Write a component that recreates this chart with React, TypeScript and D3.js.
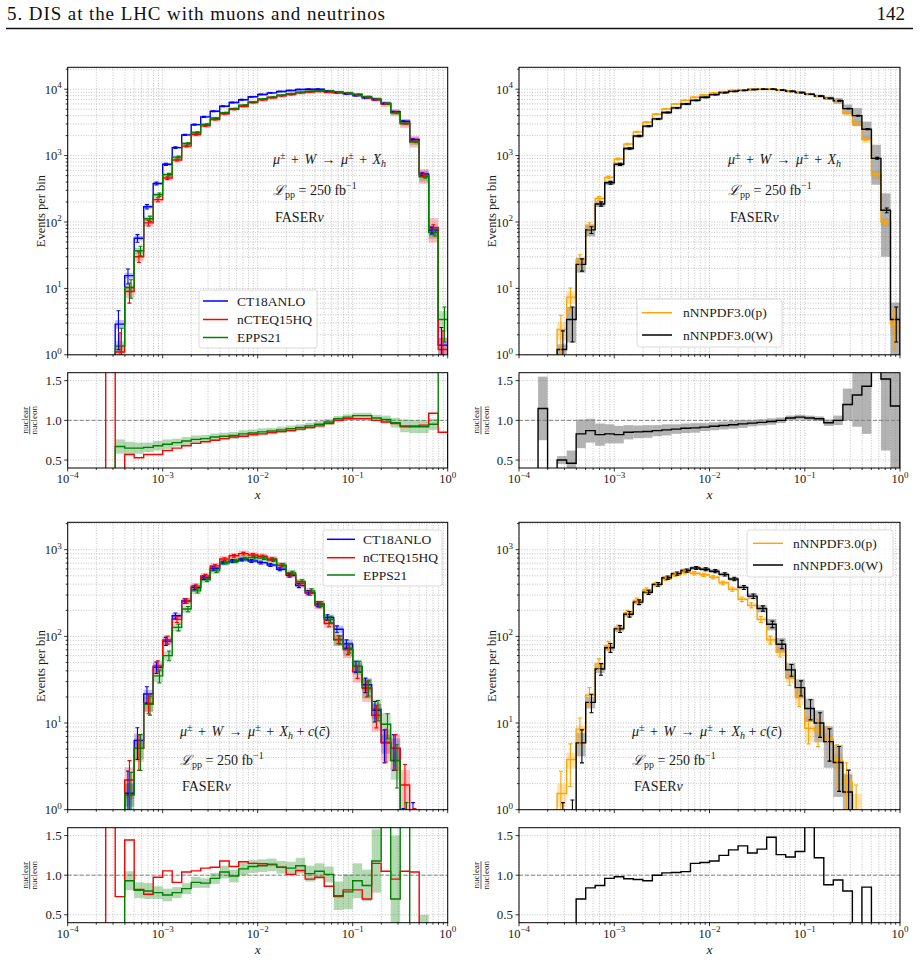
import React from "react";
import * as d3 from "d3";

const FONT = "'Liberation Serif', 'DejaVu Serif', serif";
const NBINS = 40;
// 10 log bins per decade, 1e-4 .. 1
const edges = d3.range(NBINS + 1).map((i) => Math.pow(10, -4 + i / 10));

// put values into the 40 bins starting at bin `start`
function fromBin(start: number, vals: number[]): (number | null)[] {
  const out: (number | null)[] = new Array(NBINS).fill(null);
  vals.forEach((v, i) => {
    out[start + i] = v;
  });
  return out;
}

// ---------- top left: mu + W -> mu + X_h (events per bin) ----------
const tlCT18 = fromBin(5, [2.9, 15.6, 57, 170, 380, 740, 1320, 2050, 2930, 3830, 4660, 5540, 6300, 6940, 7680, 8330, 8800, 9230, 9560, 9900, 10000, 10000, 9300, 8900, 8500, 8000, 7400, 7000, 6100, 4600, 3300, 1750, 530, 75, 1.4]);
const tlNCTEQ = fromBin(5, [1.1, 9, 30, 97, 217, 460, 860, 1390, 2080, 2800, 3500, 4270, 4980, 5550, 6300, 6910, 7440, 7940, 8320, 8810, 9100, 9300, 9000, 8900, 8650, 8150, 7500, 7000, 6000, 4450, 3050, 1650, 500, 82, 1.2]);
const tlEPPS = fromBin(5, [1.35, 10.3, 37, 112, 258, 518, 950, 1520, 2230, 2950, 3680, 4430, 5100, 5760, 6450, 7120, 7610, 8120, 8560, 9000, 9300, 9500, 9400, 9100, 8800, 8400, 7700, 7100, 6100, 4400, 3050, 1600, 480, 70, 3.4]);
// relative pdf uncertainty
const tlCT18Band = fromBin(5, [
  0.15, 0.1, 0.08, 0.06, 0.05, 0.05, 0.04, 0.04, 0.04, 0.04,
  0.04, 0.04, 0.04, 0.04, 0.04, 0.04, 0.04, 0.04, 0.04, 0.04, 0.04, 0.04, 0.04, 0.04, 0.04,
  0.04, 0.04, 0.04, 0.05, 0.06, 0.07, 0.08, 0.12, 0.18, 0.3]);
const tlNCTEQBand = fromBin(5, [
  0.3, 0.2, 0.15, 0.12, 0.1, 0.09, 0.08, 0.07, 0.07, 0.06,
  0.06, 0.06, 0.06, 0.06, 0.06, 0.06, 0.06, 0.06, 0.06, 0.06, 0.06, 0.06, 0.06, 0.06, 0.06,
  0.06, 0.07, 0.08, 0.1, 0.12, 0.15, 0.2, 0.25, 0.4, 0.5]);
const tlEPPSBand = fromBin(5, [
  0.2, 0.12, 0.1, 0.08, 0.07, 0.06, 0.05, 0.05, 0.05, 0.05,
  0.045, 0.045, 0.045, 0.045, 0.045, 0.045, 0.045, 0.045, 0.045, 0.045, 0.045, 0.045, 0.045, 0.045, 0.045,
  0.045, 0.05, 0.05, 0.06, 0.07, 0.08, 0.1, 0.15, 0.2, 0.35]);
// ratio nuclear / nucleon (0 = below the frame, 5 = above)
const tlRatioNCTEQ = fromBin(3, [0, 5, 0.3, 0.57, 0.53, 0.57, 0.57, 0.62, 0.65, 0.68, 0.71, 0.73, 0.75, 0.77, 0.79, 0.8, 0.82, 0.83, 0.845, 0.86, 0.87, 0.89, 0.91, 0.93, 0.96, 1.0, 1.02, 1.02, 1.02, 1.0, 0.98, 0.96, 0.92, 0.93, 0.94, 1.09, 0.85]);
const tlRatioEPPS = fromBin(5, [0.67, 0.65, 0.65, 0.66, 0.68, 0.7, 0.72, 0.74, 0.76, 0.77, 0.79, 0.8, 0.81, 0.83, 0.84, 0.855, 0.865, 0.88, 0.895, 0.91, 0.93, 0.95, 0.98, 1.02, 1.04, 1.06, 1.06, 1.03, 1.01, 0.97, 0.93, 0.92, 0.92, 0.95, 5]);
const tlRatioEPPSBand = fromBin(5, [0.09, 0.08, 0.07, 0.06, 0.06, 0.06, 0.05, 0.05, 0.05, 0.045, 0.045, 0.045, 0.045, 0.045, 0.045, 0.045, 0.04, 0.04, 0.04, 0.04, 0.04, 0.04, 0.035, 0.035, 0.035, 0.035, 0.035, 0.04, 0.05, 0.06, 0.08, 0.08, 0.08, 0.07, 0.1]);

// ---------- top right: nNNPDF3.0 ----------
const trW = fromBin(4, [1.2, 3.4, 23, 76, 187, 390, 740, 1280, 1970, 2780, 3570, 4450, 5230, 6000, 6800, 7550, 8300, 8900, 9300, 9600, 9900, 10000, 10000, 9700, 9300, 8900, 8400, 7900, 7300, 6700, 5100, 4000, 2500, 910, 150, 3.4]);
const trP = fromBin(4, [2.4, 7.4, 27, 88, 226, 470, 890, 1490, 2280, 3180, 4200, 5030, 6000, 6800, 7550, 8200, 8800, 9200, 9600, 9800, 10000, 10100, 10100, 9700, 9300, 8900, 8400, 7900, 7300, 6700, 4300, 3050, 1750, 520, 100, 2.9]);
const trWBand = fromBin(4, [
  0.2, 0.55, 0.25, 0.2, 0.1, 0.08,
  0.07, 0.06, 0.05, 0.05, 0.05, 0.05,
  0.05, 0.05, 0.05, 0.05, 0.05, 0.05,
  0.04, 0.04, 0.04, 0.04, 0.04, 0.04,
  0.04, 0.04, 0.04, 0.05, 0.06, 0.1,
  0.15, 0.3, 0.3, 0.6, 0.8, 0.8]);
const trPBand = fromBin(4, [
  0.3, 0.2, 0.1, 0.06, 0.05, 0.04,
  0.04, 0.04, 0.04, 0.04, 0.04, 0.04,
  0.03, 0.03, 0.03, 0.03, 0.03, 0.03,
  0.03, 0.03, 0.03, 0.03, 0.03, 0.03,
  0.03, 0.03, 0.03, 0.04, 0.05, 0.06,
  0.08, 0.1, 0.12, 0.15, 0.15, 0.3]);
const trRatio = fromBin(2, [1.15, 0, 0.5, 0.46, 0.83, 0.87, 0.82, 0.83, 0.82, 0.85, 0.855, 0.86, 0.87, 0.88, 0.89, 0.9, 0.905, 0.915, 0.925, 0.935, 0.945, 0.955, 0.965, 0.975, 0.985, 1.0, 1.03, 1.04, 1.03, 1.02, 0.97, 1.0, 1.2, 1.32, 1.43, 5, 1.52, 1.18]);
const trRatioBand = fromBin(2, [
  0.4, 0, 0.05, 0.16,
  0.18, 0.15, 0.14, 0.12, 0.11,
  0.09, 0.08, 0.08, 0.07, 0.07,
  0.06, 0.06, 0.06, 0.05, 0.05,
  0.05, 0.05, 0.05, 0.04, 0.04,
  0.04, 0.035, 0.03, 0.03, 0.03,
  0.03, 0.04, 0.06, 0.2, 0.4,
  0.6, 0.9, 0.9, 0.9]);

// ---------- bottom left: + c(cbar) ----------
const blCT18 = fromBin(6, [1.55, 6.3, 21.6, 44, 88, 173, 256, 365, 475, 610, 710, 740, 770, 740, 710, 665, 595, 505, 385, 320, 235, 165, 121, 82, 45, 27.7, 14, 5.9, 5.1, 0.4, 0.5]);
const blNCTEQ = fromBin(6, [2.2, 5.1, 16.9, 45.6, 91, 157, 256, 380, 497, 650, 780, 850, 900, 870, 840, 780, 660, 520, 410, 316, 230, 141, 92, 70, 39, 25, 12.3, 6, 5.1, 1.93, 0.4]);
const blEPPS = fromBin(6, [1.48, 5.1, 16.4, 35, 60, 127, 207, 335, 450, 570, 710, 740, 790, 810, 800, 760, 660, 540, 430, 335, 237, 157, 91, 73, 45, 25.6, 14.4, 9.7, 3.7, 0.5, 0.3]);
const blCT18Band = fromBin(6, [
  0.3, 0.2, 0.12, 0.1, 0.08, 0.07, 0.06, 0.06, 0.05, 0.05,
  0.05, 0.05, 0.05, 0.05, 0.05, 0.05, 0.05, 0.05, 0.05, 0.05,
  0.06, 0.08, 0.1, 0.12, 0.15, 0.18, 0.2, 0.25, 0.3, 0.4, 0.5]);
const blNCTEQBand = fromBin(6, [
  0.4, 0.3, 0.2, 0.15, 0.12, 0.1, 0.09, 0.08, 0.08, 0.08,
  0.08, 0.08, 0.08, 0.08, 0.08, 0.08, 0.08, 0.08, 0.08, 0.08,
  0.1, 0.12, 0.15, 0.2, 0.25, 0.3, 0.35, 0.4, 0.45, 0.5, 0.5]);
const blEPPSBand = fromBin(6, [
  0.35, 0.25, 0.18, 0.15, 0.12, 0.1, 0.1, 0.08, 0.08, 0.08,
  0.08, 0.08, 0.08, 0.08, 0.08, 0.08, 0.08, 0.08, 0.08, 0.08,
  0.1, 0.12, 0.15, 0.18, 0.2, 0.25, 0.3, 0.35, 0.4, 0.5, 0.5]);
const blRatioNCTEQ = fromBin(3, [0, 5, 0.73, 1.445, 0.82, 0.76, 0.975, 1.055, 0.91, 1.04, 1.055, 1.09, 1.1, 1.18, 1.11, 1.17, 1.15, 1.145, 1.14, 1.1, 1.01, 1.06, 0.95, 0.975, 0.86, 0.73, 0.815, 0.815, 0.7, 1.15, 1.05, 0.95, 1.05, 1.04, 0]);
const blRatioEPPS = fromBin(5, [0, 0.93, 0.81, 0.8, 0.78, 0.75, 0.78, 0.83, 0.91, 0.9, 0.96, 1.04, 0.99, 1.08, 1.11, 1.12, 1.13, 1.1, 1.09, 1.12, 1.02, 1.05, 1.01, 0.74, 0.79, 0.93, 0.87, 1.18, 5, 0.7, 5, 0, 0]);
const blRatioEPPSBand = fromBin(5, [0, 0.12, 0.1, 0.1, 0.08, 0.08, 0.07, 0.07, 0.07, 0.06, 0.07, 0.08, 0.08, 0.08, 0.08, 0.08, 0.08, 0.08, 0.08, 0.1, 0.1, 0.1, 0.1, 0.18, 0.22, 0.22, 0.2, 0.4, 0.8, 0.8, 0.8, 0, 0.5]);

// ---------- bottom right: nNNPDF3.0, + c(cbar) ----------
const brW = fromBin(4, [0.5, 0.55, 5.9, 17.3, 42, 74, 122, 180, 248, 323, 398, 475, 530, 575, 615, 595, 565, 519, 459, 367, 291, 210, 138, 81, 41, 25.6, 14.7, 10, 6.1, 3.5, 1.6]);
const brP = fromBin(4, [1.54, 3.8, 8.5, 21, 48, 78, 124, 186, 260, 345, 400, 463, 515, 548, 535, 513, 480, 415, 350, 268, 228, 157, 91, 66, 33, 20, 8.7, 8.2, 6.6, 3.7, 2.05, 0.95]);
const brWBand = fromBin(4, [
  0.8, 0.8, 0.3, 0.15, 0.1, 0.08, 0.07, 0.06, 0.06, 0.05,
  0.05, 0.05, 0.05, 0.05, 0.05, 0.05, 0.05, 0.05, 0.05, 0.05,
  0.08, 0.1, 0.15, 0.18, 0.2, 0.25, 0.3, 0.4, 0.5, 0.6, 0.6]);
const brPBand = fromBin(4, [
  0.3, 0.2, 0.1, 0.06, 0.05, 0.04,
  0.04, 0.04, 0.04, 0.04, 0.04, 0.04, 0.04, 0.04, 0.04, 0.04, 0.04, 0.04, 0.04, 0.04,
  0.05, 0.06, 0.08, 0.1, 0.12, 0.2, 0.3, 0.15, 0.15, 0.2, 0.3, 0.6]);
const brRatio = fromBin(6, [0.7, 0.84, 0.87, 0.96, 0.98, 0.955, 0.945, 0.93, 1.0, 1.03, 1.035, 1.045, 1.15, 1.16, 1.18, 1.25, 1.32, 1.37, 1.28, 1.33, 1.48, 1.26, 1.23, 1.3, 5, 1.22, 0.88, 0.94, 0.8, 0, 0.85]);

const xTickExps = ["−4", "−3", "−2", "−1", "0"];

type Vals = (number | null)[];
interface Hist {
  label: string;
  vals: Vals;
  band: Vals;
  color: string;
  bandColor: string;
  bandAlpha: number;
  dx: number;
}
interface RatioLine {
  vals: Vals;
  band?: Vals;
  color: string;
  bandColor?: string;
  bandAlpha?: number;
}
interface Row {
  mainTop: number;
  mainBot: number;
  yMax: number;
  ratioTop: number;
  ratioBot: number;
}
interface PanelCfg {
  id: string;
  left: number;
  right: number;
  row: Row;
  hists: Hist[];
  ratios: RatioLine[];
  legend: { x: number; y: number; w: number; h: number; rows: number[]; l0: number; l1: number; tx: number };
  note: { x: number; ys: number[]; charm: boolean };
}

const topRow: Row = { mainTop: 67.3, mainBot: 354.8, yMax: Math.pow(10, 4.33), ratioTop: 372.7, ratioBot: 468 };
const botRow: Row = { mainTop: 522.3, mainBot: 809.7, yMax: Math.pow(10, 3.316), ratioTop: 827.7, ratioBot: 922.7 };
const LEFT = [67.7, 447.7];
const RIGHT = [519, 900];

const BLUE = "#0000ff";
const RED = "#ff0000";
const GREEN = "#008000";
const ORANGE = "#ffa500";
const GRID = "#b4b4b4";

const stepLine = d3.line<[number, number]>().curve(d3.curveStepAfter);

function stepPath(vals: Vals, xs: (v: number) => number, ys: (v: number | null) => number, floor: number) {
  const idx = vals.map((v, i) => (v === null ? -1 : i)).filter((i) => i >= 0);
  if (!idx.length) return "";
  const first = idx[0];
  const last = idx[idx.length - 1];
  const pts: [number, number][] = [[xs(edges[first]), floor]];
  for (let i = first; i <= last; i++) pts.push([xs(edges[i]), ys(vals[i])]);
  pts.push([xs(edges[last + 1]), ys(vals[last])]);
  pts.push([xs(edges[last + 1]), floor]);
  return stepLine(pts) || "";
}

function Sup({ base, exp, ...rest }: any) {
  return (
    <text {...rest}>
      {base}
      <tspan dy={-5.5} fontSize={9}>
        {exp}
      </tspan>
    </text>
  );
}

// math-ish spacing around binary operators, like LaTeX
const G = 2;

function Note({ x, ys, charm }: { x: number; ys: number[]; charm: boolean }) {
  return (
    <g fontFamily={FONT} fontSize={14} fill="#1a1a1a">
      <text x={x} y={ys[0]}>
        <tspan fontStyle="italic">μ</tspan>
        <tspan dy={-5} fontSize={10}>±</tspan>
        <tspan dy={5} dx={G}> + </tspan>
        <tspan dx={G} fontStyle="italic">W</tspan>
        <tspan dx={G}> → </tspan>
        <tspan dx={G} fontStyle="italic">μ</tspan>
        <tspan dy={-5} fontSize={10}>±</tspan>
        <tspan dy={5} dx={G}> + </tspan>
        <tspan dx={G} fontStyle="italic">X</tspan>
        <tspan dy={3} fontSize={10} fontStyle="italic">h</tspan>
        {charm ? (
          <>
            <tspan dy={-3}> + </tspan>
            <tspan fontStyle="italic">c</tspan>
            <tspan>(</tspan>
            <tspan fontStyle="italic">c̄</tspan>
            <tspan>)</tspan>
          </>
        ) : null}
      </text>
      <text x={x} y={ys[1]}>
        <tspan fontStyle="italic">ℒ</tspan>
        <tspan dy={3} fontSize={10}>pp</tspan>
        <tspan dy={-3}> = 250 fb</tspan>
        <tspan dy={-6} fontSize={10}>−1</tspan>
      </text>
      <text x={x + 2} y={ys[2]}>
        FASER<tspan fontStyle="italic">ν</tspan>
      </text>
    </g>
  );
}

function Panel({ c }: { c: PanelCfg }) {
  const { left, right, row } = c;
  const x = d3.scaleLog().domain([1e-4, 1]).range([left, right]);
  const y = d3.scaleLog().domain([1, row.yMax]).range([row.mainBot, row.mainTop]);
  const r = d3.scaleLinear().domain([0.4, 1.6]).range([row.ratioBot, row.ratioTop]);
  const xt = x.ticks();
  const yt = y.ticks().filter((v) => v <= row.yMax);
  const isMajor = (v: number) => Math.abs(Math.log10(v) - Math.round(Math.log10(v))) < 1e-9;
  const mainFloor = row.mainBot + 30;
  const ratioFloor = row.ratioBot + 30;
  const ym = (v: number | null) => (v !== null && v > 0 ? y(v) : mainFloor);
  const yr = (v: number | null) => (v === null ? ratioFloor : Math.max(row.ratioTop - 30, Math.min(ratioFloor, r(v))));
  const clipM = `cm-${c.id}`;
  const clipR = `cr-${c.id}`;
  const rTicks = [0.5, 1.0, 1.5];
  const mid = (i: number) => Math.sqrt(edges[i] * edges[i + 1]);

  return (
    <g fontFamily={FONT}>
      <defs>
        <clipPath id={clipM}>
          <rect x={left} y={row.mainTop} width={right - left} height={row.mainBot - row.mainTop} />
        </clipPath>
        <clipPath id={clipR}>
          <rect x={left} y={row.ratioTop} width={right - left} height={row.ratioBot - row.ratioTop} />
        </clipPath>
      </defs>

      {/* grids */}
      <g stroke={GRID} strokeWidth={0.8} strokeDasharray="1 1.6">
        {xt.map((v, i) => (
          <g key={"gx" + i}>
            <line x1={x(v)} x2={x(v)} y1={row.mainTop} y2={row.mainBot} />
            <line x1={x(v)} x2={x(v)} y1={row.ratioTop} y2={row.ratioBot} />
          </g>
        ))}
        {yt.map((v, i) => (
          <line key={"gy" + i} x1={left} x2={right} y1={y(v)} y2={y(v)} />
        ))}
        {rTicks.map((v) => (
          <line key={"gr" + v} x1={left} x2={right} y1={r(v)} y2={r(v)} />
        ))}
      </g>
      <line x1={left} x2={right} y1={r(1)} y2={r(1)} stroke="#777" strokeWidth={0.9} strokeDasharray="4 2" />

      {/* main histograms */}
      <g clipPath={`url(#${clipM})`}>
        {c.hists.map((h, k) =>
          h.vals.map((v, i) => {
            const b = h.band[i];
            if (v === null || v <= 0 || !b) return null;
            const lo = v * (1 - b);
            return (
              <rect
                key={`b${k}-${i}`}
                x={x(edges[i])}
                width={x(edges[i + 1]) - x(edges[i])}
                y={y(v * (1 + b))}
                height={(lo > 0 ? y(lo) : mainFloor) - y(v * (1 + b))}
                fill={h.bandColor}
                fillOpacity={h.bandAlpha}
              />
            );
          })
        )}
        {c.hists.map((h, k) => (
          <path key={"s" + k} d={stepPath(h.vals, x, ym, mainFloor)} fill="none" stroke={h.color} strokeWidth={1.4} />
        ))}
        {c.hists.map((h, k) =>
          h.vals.map((v, i) => {
            if (v === null || v <= 0) return null;
            const e = Math.sqrt(v);
            const cx = x(mid(i)) + h.dx;
            const top = y(v + e);
            const bot = v - e > 0 ? y(v - e) : mainFloor;
            return (
              <g key={`e${k}-${i}`} stroke={h.color} strokeWidth={1.1}>
                <line x1={cx} x2={cx} y1={top} y2={bot} />
                <line x1={cx - 2} x2={cx + 2} y1={top} y2={top} />
                <line x1={cx - 2} x2={cx + 2} y1={bot} y2={bot} />
              </g>
            );
          })
        )}
      </g>

      {/* ratio */}
      <g clipPath={`url(#${clipR})`}>
        {c.ratios.map((rl, k) =>
          rl.band
            ? rl.vals.map((v, i) => {
                const b = rl.band![i];
                if (v === null || !b) return null;
                return (
                  <rect
                    key={`rb${k}-${i}`}
                    x={x(edges[i])}
                    width={x(edges[i + 1]) - x(edges[i])}
                    y={yr(v + b)}
                    height={yr(v - b) - yr(v + b)}
                    fill={rl.bandColor}
                    fillOpacity={rl.bandAlpha}
                  />
                );
              })
            : null
        )}
        {c.ratios.map((rl, k) => (
          <path key={"rs" + k} d={stepPath(rl.vals, x, yr, ratioFloor)} fill="none" stroke={rl.color} strokeWidth={1.4} />
        ))}
      </g>

      {/* frames */}
      <rect x={left} y={row.mainTop} width={right - left} height={row.mainBot - row.mainTop} fill="none" stroke="#000" strokeWidth={1} />
      <rect x={left} y={row.ratioTop} width={right - left} height={row.ratioBot - row.ratioTop} fill="none" stroke="#000" strokeWidth={1} />

      {/* ticks */}
      <g stroke="#000" strokeWidth={0.8}>
        {xt.map((v, i) => {
          const L = isMajor(v) ? 3.5 : 2;
          return (
            <g key={"tx" + i}>
              <line x1={x(v)} x2={x(v)} y1={row.mainBot} y2={row.mainBot + L} />
              <line x1={x(v)} x2={x(v)} y1={row.ratioBot} y2={row.ratioBot + L} />
            </g>
          );
        })}
        {yt.map((v, i) => (
          <line key={"ty" + i} x1={left - (isMajor(v) ? 3.5 : 2)} x2={left} y1={y(v)} y2={y(v)} />
        ))}
        {rTicks.map((v) => (
          <line key={"tr" + v} x1={left - 3.5} x2={left} y1={r(v)} y2={r(v)} />
        ))}
      </g>

      {/* tick labels */}
      <g fill="#1a1a1a" fontSize={12.5}>
        {yt.filter(isMajor).map((v) => (
          <Sup key={"ly" + v} x={left - 6} y={y(v) + 4.5} textAnchor="end" base="10" exp={String(Math.round(Math.log10(v)))} />
        ))}
        {rTicks.map((v) => (
          <text key={"lr" + v} x={left - 6} y={r(v) + 4.5} textAnchor="end" fontSize={13}>
            {v.toFixed(1)}
          </text>
        ))}
        {xt.filter(isMajor).map((v, i) => (
          <Sup key={"lx" + i} x={x(v)} y={row.ratioBot + 15} textAnchor="middle" base="10" exp={xTickExps[i]} />
        ))}
        <text x={(left + right) / 2} y={row.ratioBot + 31} textAnchor="middle" fontStyle="italic" fontSize={13.5}>
          x
        </text>
        <text
          transform={`translate(${left - 23},${(row.mainTop + row.mainBot) / 2}) rotate(-90)`}
          textAnchor="middle"
          fontSize={12.5}
        >
          Events per bin
        </text>
        <g transform={`translate(${left - 38},${(row.ratioTop + row.ratioBot) / 2}) rotate(-90)`} fontSize={9}>
          <text y={-2} textAnchor="middle">nuclear</text>
          <line x1={-14} x2={14} y1={0} y2={0} stroke="#1a1a1a" strokeWidth={0.7} />
          <text y={7.5} textAnchor="middle">nucleon</text>
        </g>
      </g>

      <Note x={c.note.x} ys={c.note.ys} charm={c.note.charm} />

      {/* legend */}
      <g>
        <rect x={c.legend.x} y={c.legend.y} width={c.legend.w} height={c.legend.h} rx={2.5} fill="#fff" fillOpacity={0.85} stroke="#d6d6d6" strokeWidth={0.9} />
        {c.hists.map((h, k) => (
          <g key={"lg" + k}>
            <line x1={c.legend.l0} x2={c.legend.l1} y1={c.legend.rows[k]} y2={c.legend.rows[k]} stroke={h.color} strokeWidth={1.5} />
            <text x={c.legend.tx} y={c.legend.rows[k] + 4.6} fontSize={13.5} fill="#1a1a1a">
              {h.label}
            </text>
          </g>
        ))}
      </g>
    </g>
  );
}

const panels: PanelCfg[] = [
  {
    id: "tl",
    left: LEFT[0],
    right: LEFT[1],
    row: topRow,
    hists: [
      { label: "CT18ANLO", vals: tlCT18, band: tlCT18Band, color: BLUE, bandColor: BLUE, bandAlpha: 0.25, dx: -1.5 },
      { label: "nCTEQ15HQ", vals: tlNCTEQ, band: tlNCTEQBand, color: RED, bandColor: RED, bandAlpha: 0.25, dx: 0 },
      { label: "EPPS21", vals: tlEPPS, band: tlEPPSBand, color: GREEN, bandColor: GREEN, bandAlpha: 0.25, dx: 1.5 },
    ],
    ratios: [
      { vals: tlRatioNCTEQ, color: RED },
      { vals: tlRatioEPPS, band: tlRatioEPPSBand, color: GREEN, bandColor: GREEN, bandAlpha: 0.3 },
    ],
    legend: { x: 199, y: 290, w: 118, h: 58, rows: [301, 319.5, 337.5], l0: 203, l1: 228, tx: 237 },
    note: { x: 273, ys: [164, 195, 222], charm: false },
  },
  {
    id: "tr",
    left: RIGHT[0],
    right: RIGHT[1],
    row: topRow,
    hists: [
      { label: "nNNPDF3.0(p)", vals: trP, band: trPBand, color: ORANGE, bandColor: ORANGE, bandAlpha: 0.3, dx: -1 },
      { label: "nNNPDF3.0(W)", vals: trW, band: trWBand, color: "#000", bandColor: "#808080", bandAlpha: 0.6, dx: 1 },
    ],
    ratios: [{ vals: trRatio, band: trRatioBand, color: "#000", bandColor: "#808080", bandAlpha: 0.6 }],
    legend: { x: 637, y: 299, w: 145, h: 48, rows: [312.7, 335], l0: 642, l1: 672, tx: 683 },
    note: { x: 728, ys: [164, 195, 222], charm: false },
  },
  {
    id: "bl",
    left: LEFT[0],
    right: LEFT[1],
    row: botRow,
    hists: [
      { label: "CT18ANLO", vals: blCT18, band: blCT18Band, color: BLUE, bandColor: BLUE, bandAlpha: 0.25, dx: -1.5 },
      { label: "nCTEQ15HQ", vals: blNCTEQ, band: blNCTEQBand, color: RED, bandColor: RED, bandAlpha: 0.25, dx: 0 },
      { label: "EPPS21", vals: blEPPS, band: blEPPSBand, color: GREEN, bandColor: GREEN, bandAlpha: 0.25, dx: 1.5 },
    ],
    ratios: [
      { vals: blRatioNCTEQ, color: RED },
      { vals: blRatioEPPS, band: blRatioEPPSBand, color: GREEN, bandColor: GREEN, bandAlpha: 0.3 },
    ],
    legend: { x: 323, y: 530, w: 119, h: 56, rows: [539.3, 557.7, 575], l0: 327, l1: 355, tx: 363 },
    note: { x: 180, ys: [736, 765, 791], charm: true },
  },
  {
    id: "br",
    left: RIGHT[0],
    right: RIGHT[1],
    row: botRow,
    hists: [
      { label: "nNNPDF3.0(p)", vals: brP, band: brPBand, color: ORANGE, bandColor: ORANGE, bandAlpha: 0.3, dx: -1 },
      { label: "nNNPDF3.0(W)", vals: brW, band: brWBand, color: "#000", bandColor: "#808080", bandAlpha: 0.55, dx: 1 },
    ],
    ratios: [{ vals: brRatio, color: "#000" }],
    legend: { x: 747, y: 530, w: 146, h: 47, rows: [543.3, 565], l0: 753, l1: 783, tx: 793 },
    note: { x: 632, ys: [736, 765, 791], charm: true },
  },
];

export default function App() {
  return (
    <svg
      width={920}
      height={962}
      viewBox="0 0 920 962"
      style={{ position: "absolute", left: 0, top: 0, background: "#fff" }}
    >
      <rect width={920} height={962} fill="#fff" />
      <g fontFamily={FONT} fill="#111">
        <text x={7} y={20} fontSize={19} textLength={378} lengthAdjust="spacing">
          5. DIS at the LHC with muons and neutrinos
        </text>
        <text x={905} y={20} fontSize={19} textAnchor="end">
          142
        </text>
      </g>
      <line x1={6} x2={913} y1={28.5} y2={28.5} stroke="#111" strokeWidth={1.3} />
      {panels.map((p) => (
        <Panel key={p.id} c={p} />
      ))}
    </svg>
  );
}
